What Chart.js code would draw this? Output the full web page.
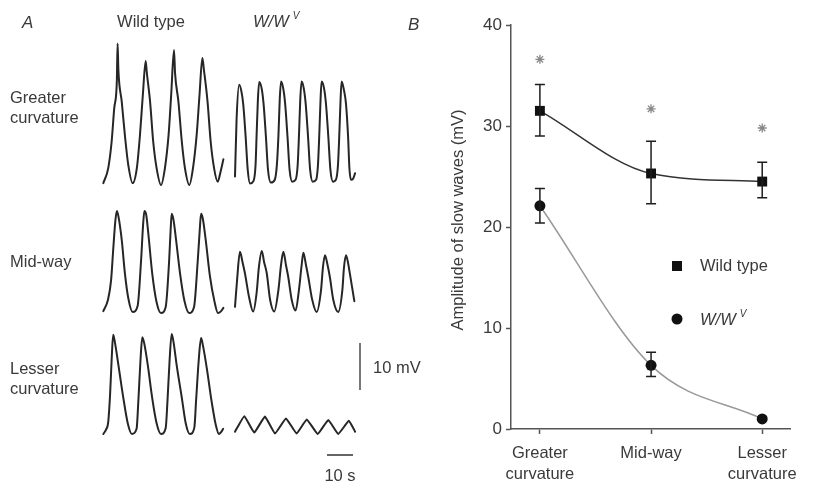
<!DOCTYPE html>
<html>
<head>
<meta charset="utf-8">
<script src="https://cdn.jsdelivr.net/npm/chart.js@4.4.0/dist/chart.umd.min.js"></script>
<style>
  html, body { margin: 0; padding: 0; background: #fff; }
  #wrap   { position: relative; width: 814px; height: 486px; }
  #traces { position: absolute; left: 0; top: 0; }
  #amps   { position: absolute; left: 390px; top: 0; }
</style>
</head>
<body>
<div id="wrap">
  <canvas id="traces" width="440" height="486" style="width:440px;height:486px"></canvas>
  <canvas id="amps" width="424" height="486" style="width:424px;height:486px"></canvas>
</div>
<script>
// ── Panel A: slow wave recordings, [time (s), mV above trough] ─────
const greaterWild = [[0,0.4],[1.9,3.6],[3.2,9.2],[4.2,16.3],[5.2,22.0],[5.5,30.1],[5.8,24.5],[7.1,17.7],[8.3,10.6],[9.6,4.3],[11.3,0.4],
  [12.9,3.6],[14.1,10.6],[15.2,19.1],[16.3,26.4],[16.7,24.1],[18.0,17.7],[19.2,9.2],[20.5,3.6],[22.2,0],
  [23.7,3.6],[25.1,10.6],[26.1,19.1],[27.2,28.7],[27.6,23.8],[28.9,17.7],[30.2,9.2],[31.4,3.6],[33.1,0],
  [34.5,3.6],[35.9,10.6],[37.0,19.1],[38.1,27.0],[38.7,24.5],[40.1,17.7],[41.3,9.2],[42.6,3.6],[44.0,0.7],[45.1,2.8],[46.2,5.5]];
const greaterWv = [[0,1.6],[0.6,13.6],[1.6,21.1],[2.5,19.6],[3.2,16.8],[4.1,10.0],[4.9,3.0],[5.8,0.1],[7.1,0.6],[7.9,4.0],[8.3,10.2],[8.8,17.9],
  [9.3,21.7],[10.3,20.2],[11.0,17.0],[11.9,10.0],[12.7,3.0],[13.8,0.3],[15.3,0.9],[16.1,4.0],[16.7,10.2],[17.2,17.9],
  [17.7,21.8],[18.6,20.2],[19.3,17.0],[20.2,10.0],[21.0,3.0],[22.0,0.5],[23.3,0.9],[24.1,4.0],[24.6,10.2],[25.1,17.9],
  [25.6,21.8],[26.5,20.2],[27.2,17.0],[28.1,10.0],[28.9,3.0],[29.9,0.5],[31.2,0.9],[31.9,4.0],[32.4,10.2],[32.9,17.9],
  [33.3,21.8],[34.3,20.2],[35.0,17.0],[35.9,10.0],[36.7,3.0],[37.7,0.5],[38.8,0.9],[39.6,4.0],[40.1,10.2],[40.6,17.9],
  [41.0,21.8],[41.9,20.0],[42.7,17.0],[43.5,10.0],[44.0,3.4],[44.6,0.9],[45.4,1.1],[46.2,2.3]];
const midWild = [[0,0.4],[1.8,2.8],[3.0,7.0],[3.8,13.4],[4.6,19.4],[5.2,21.7],[5.8,20.6],[7.1,15.5],[8.3,8.5],[9.6,3.2],[11.3,0.2],
  [13.2,1.5],[14.5,10.9],[15.3,18.7],[15.8,21.7],[16.5,20.9],[17.3,17.0],[18.8,8.5],[20.5,2.3],[22.2,0],
  [24.0,1.3],[25.3,10.9],[25.9,17.7],[26.3,21.1],[27.0,19.8],[28.0,15.5],[29.5,8.5],[31.2,2.6],[33.0,0],
  [34.9,1.3],[36.3,10.9],[37.1,17.7],[37.6,21.1],[38.3,20.0],[39.4,15.5],[41.0,7.9],[42.7,2.6],[44.1,0],[45.3,0.4],[46.2,1.1]];
const midWv = [[0,1.1],[0.8,6.8],[1.9,12.8],[2.9,10.6],[3.8,8.3],[5.4,3.2],[7.0,0.1],[8.3,4.0],[9.2,9.6],
  [10.3,13.0],[11.2,10.6],[12.2,8.3],[13.5,2.6],[15.1,0.1],[16.7,4.7],[17.7,10.0],
  [18.6,12.8],[19.6,10.0],[20.5,7.4],[21.8,2.6],[23.3,0.3],[24.6,4.7],[25.6,9.8],
  [26.3,12.6],[27.3,10.0],[28.2,7.4],[29.7,2.6],[31.4,0],[33.1,4.7],[33.8,9.4],
  [34.6,12.1],[35.6,10.0],[36.5,7.4],[37.8,2.6],[39.7,0],[41.3,4.7],[41.9,9.4],
  [42.7,12.1],[43.5,10.4],[44.2,8.1],[45.2,4.7],[45.9,2.3]];
const lesserWild = [[0,0],[1.0,0.9],[1.9,2.6],[2.6,8.3],[3.2,15.7],[3.8,21.1],[4.5,19.4],[5.8,14.7],[7.7,7.7],[9.4,2.3],[11.0,0],
  [12.8,1.1],[13.5,7.2],[14.3,15.7],[15.0,20.6],[15.7,19.4],[17.1,14.7],[18.8,7.7],[20.5,2.3],[22.2,0],
  [24.0,1.3],[24.7,7.2],[25.5,15.7],[26.3,21.3],[27.0,19.6],[28.2,14.7],[30.2,7.7],[31.7,2.3],[33.3,0],
  [35.0,1.3],[35.7,7.2],[36.7,15.7],[37.6,20.4],[38.3,18.9],[39.8,14.0],[41.7,6.8],[43.2,2.1],[44.5,0],[45.3,0.4],[46.1,1.1]];
const lesserWv = [[0,0.5],[3.6,3.8],[7.4,0.3],[11.5,3.7],[15.4,0.1],[19.6,3.3],[23.7,0.1],
  [27.6,3.1],[31.8,0],[35.9,3.0],[39.7,0],[43.8,2.8],[46.2,0.5]];

const scaleBarMv = 10;
const scaleBarS  = 10;

// ── Panel B: amplitude of slow waves (mV), mean and error bar ends ──
const sites     = [['Greater', 'curvature'], ['Mid-way'], ['Lesser', 'curvature']];
const wildMean  = [31.5, 25.3, 24.5];
const wildHi    = [34.1, 28.5, 26.4];
const wildLo    = [29.0, 22.3, 22.9];
const wvMean    = [22.1, 6.3, 1.0];
const wvHi      = [23.8, 7.6, 1.0];
const wvLo      = [20.4, 5.2, 1.0];
const starLevel = [36.6, 31.7, 29.8];
const yTicks    = [0, 10, 20, 30, 40];

// ── Layout ─────────────────────────────────────────────────────────
const FONT     = '"Liberation Sans", Arial, sans-serif';
const TEXT_COL = '#3a3a3a';
const A_W = 440, A_H = 486;
const PX_PER_S = 2.6, PX_PER_MV = 4.7;

const traceRows = [
  { pts: greaterWild, x: 103.3, base: 185 },
  { pts: greaterWv,   x: 235,   base: 184 },
  { pts: midWild,     x: 103.3, base: 313 },
  { pts: midWv,       x: 235,   base: 312 },
  { pts: lesserWild,  x: 103.3, base: 434 },
  { pts: lesserWv,    x: 235,   base: 434 }
];

const place = (pts, xPx, basePx) =>
  pts.map(([t, v]) => ({ x: t + xPx / PX_PER_S, y: v + (A_H - basePx) / PX_PER_MV }));

const traceSets = traceRows.map(r => ({
  data: place(r.pts, r.x, r.base),
  borderColor: '#262626',
  borderWidth: 2,
  borderJoinStyle: 'round',
  borderCapStyle: 'round',
  pointRadius: 0,
  cubicInterpolationMode: r.pts === lesserWv ? 'default' : 'monotone',
  tension: r.pts === lesserWv ? 0.1 : 0
}));

// scale bars: 10 mV upright at x=360, 10 s flat at y=455
traceSets.push({
  data: place([[0, 0], [0, scaleBarMv]], 360, 390),
  borderColor: '#555', borderWidth: 1.6, pointRadius: 0
});
traceSets.push({
  data: place([[0, 0], [scaleBarS, 0]], 327, 455),
  borderColor: '#555', borderWidth: 1.8, pointRadius: 0
});

function wwv(ctx, x, y, size) {
  ctx.save();
  ctx.font = `italic ${size}px ${FONT}`;
  ctx.textBaseline = 'middle';
  ctx.textAlign = 'left';
  const w = ctx.measureText('W/W').width;
  ctx.fillText('W/W', x, y);
  ctx.font = `italic ${Math.round(size * 0.62)}px ${FONT}`;
  ctx.fillText('V', x + w + 4, y - 6);
  ctx.restore();
}

const tracesLabels = {
  id: 'tracesLabels',
  afterDraw(chart) {
    const c = chart.ctx;
    c.save();
    c.fillStyle = TEXT_COL;
    c.textBaseline = 'middle';
    c.font = `italic 17px ${FONT}`;
    c.fillText('A', 22, 23);
    c.font = `16.5px ${FONT}`;
    c.textAlign = 'center';
    c.fillText('Wild type', 151, 22);
    wwv(c, 253, 22, 16.5);
    c.textAlign = 'left';
    c.fillText('Greater', 10, 98);
    c.fillText('curvature', 10, 118);
    c.fillText('Mid-way', 10, 262);
    c.fillText('Lesser', 10, 369);
    c.fillText('curvature', 10, 389);
    c.fillText('10 mV', 373, 368);
    c.textAlign = 'center';
    c.fillText('10 s', 340, 476);
    c.restore();
  }
};

new Chart(document.getElementById('traces'), {
  type: 'line',
  data: { datasets: traceSets },
  options: {
    responsive: false,
    animation: false,
    layout: { padding: 0 },
    plugins: { legend: { display: false }, tooltip: { enabled: false } },
    scales: {
      x: { type: 'linear', display: false, min: 0, max: A_W / PX_PER_S },
      y: { type: 'linear', display: false, min: 0, max: A_H / PX_PER_MV }
    }
  },
  plugins: [tracesLabels]
});

// ── Panel B ────────────────────────────────────────────────────────
const errorBars = {
  id: 'errorBars',
  afterDatasetsDraw(chart) {
    const { ctx: c, scales } = chart;
    c.save();
    c.strokeStyle = '#1e1e1e';
    c.lineWidth = 1.5;
    [[wildHi, wildLo], [wvHi, wvLo]].forEach(([hi, lo]) => {
      hi.forEach((h, i) => {
        if (h === lo[i]) return;
        const x  = scales.x.getPixelForValue(i);
        const y1 = scales.y.getPixelForValue(h);
        const y2 = scales.y.getPixelForValue(lo[i]);
        c.beginPath();
        c.moveTo(x, y1); c.lineTo(x, y2);
        c.moveTo(x - 5, y1); c.lineTo(x + 5, y1);
        c.moveTo(x - 5, y2); c.lineTo(x + 5, y2);
        c.stroke();
      });
    });
    c.restore();
  }
};

const ampLabels = {
  id: 'ampLabels',
  afterDraw(chart) {
    const c = chart.ctx;
    c.save();
    c.fillStyle = TEXT_COL;
    c.textBaseline = 'middle';
    c.font = `italic 17px ${FONT}`;
    c.fillText('B', 18, 25);

    c.save();
    c.translate(68, 220);
    c.rotate(-Math.PI / 2);
    c.textAlign = 'center';
    c.font = `16.5px ${FONT}`;
    c.fillText('Amplitude of slow waves (mV)', 0, 0);
    c.restore();

    // legend
    c.fillStyle = '#111';
    c.fillRect(282, 261, 10, 10);
    c.beginPath();
    c.arc(287, 319, 5.5, 0, Math.PI * 2);
    c.fill();
    c.fillStyle = TEXT_COL;
    c.font = `16.5px ${FONT}`;
    c.fillText('Wild type', 310, 266);
    wwv(c, 310, 320, 16.5);
    c.restore();
  }
};

const toPts = arr => arr.map((v, i) => ({ x: i, y: v }));

new Chart(document.getElementById('amps'), {
  type: 'line',
  data: {
    datasets: [
      {
        label: 'Wild type',
        data: toPts(wildMean),
        borderColor: '#333',
        borderWidth: 1.5,
        cubicInterpolationMode: 'monotone',
        pointStyle: 'rect',
        pointRadius: 7,
        pointBackgroundColor: '#111',
        pointBorderColor: '#111',
        pointBorderWidth: 0
      },
      {
        label: 'W/W V',
        data: toPts(wvMean),
        borderColor: '#999',
        borderWidth: 1.5,
        cubicInterpolationMode: 'monotone',
        pointStyle: 'circle',
        pointRadius: 5.5,
        pointBackgroundColor: '#111',
        pointBorderColor: '#111',
        pointBorderWidth: 0
      },
      {
        label: 'significance',
        data: toPts(starLevel),
        showLine: false,
        pointStyle: 'star',
        pointRadius: 4.5,
        pointBorderColor: '#888',
        pointBorderWidth: 1.3
      }
    ]
  },
  options: {
    responsive: false,
    animation: false,
    layout: { padding: { left: 0, top: 25, right: 24, bottom: 0 } },
    plugins: { legend: { display: false }, tooltip: { enabled: false } },
    scales: {
      x: {
        type: 'linear',
        min: -0.26,
        max: 2.25,
        afterBuildTicks: s => { s.ticks = sites.map((_, i) => ({ value: i })); },
        afterFit: s => { s.height = 57; },
        border: { display: true, color: '#555', width: 1.5 },
        grid: { drawOnChartArea: false, tickLength: 5, tickColor: '#555', tickWidth: 1.5 },
        ticks: {
          autoSkip: false,
          maxRotation: 0,
          padding: 9,
          color: TEXT_COL,
          font: { family: FONT, size: 16.5, lineHeight: 1.27 },
          callback: v => sites[v]
        }
      },
      y: {
        min: 0,
        max: 40,
        afterBuildTicks: s => { s.ticks = yTicks.map(v => ({ value: v })); },
        afterFit: s => { s.width = 121; },
        border: { display: true, color: '#555', width: 1.5 },
        grid: { drawOnChartArea: false, tickLength: 5, tickColor: '#555', tickWidth: 1.5 },
        ticks: {
          padding: 4,
          color: TEXT_COL,
          font: { family: FONT, size: 17 }
        }
      }
    }
  },
  plugins: [errorBars, ampLabels]
});
</script>
</body>
</html>
